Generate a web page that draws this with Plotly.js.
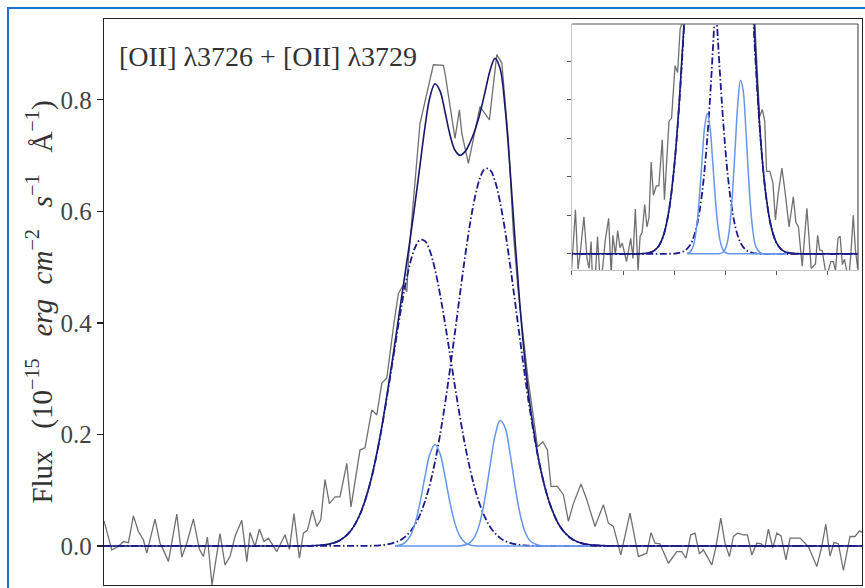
<!DOCTYPE html>
<html>
<head>
<meta charset="utf-8">
<script src="https://cdn.plot.ly/plotly-3.0.1.min.js"></script>
<style>
  html, body { margin: 0; padding: 0; background: #ffffff; overflow: hidden; }
  #wrap { position: relative; width: 865px; height: 588px; overflow: hidden; }
  #chart { position: absolute; left: 0; top: 0; width: 865px; height: 588px; }
  #frame { position: absolute; left: 7px; top: 7px; width: 1000px; height: 1000px;
           border-left: 2px solid #1f72d4; border-top: 2px solid #1f72d4; pointer-events: none; z-index: 5; }
</style>
</head>
<body>
<div id="wrap"><div id="chart"></div><div id="frame"></div></div>
<script>
// Observed spectrum (wavelength in Angstrom, flux in 1e-15 erg/cm2/s/A)
const specX = [4311.70, 4312.09, 4312.42, 4312.67, 4312.92, 4313.17, 4313.42, 4313.67, 4313.84, 4314.25,
  4314.50, 4314.67, 4314.92, 4315.34, 4315.59, 4315.84, 4316.17, 4316.47, 4316.67, 4316.87,
  4317.10, 4317.50, 4317.75, 4318.00, 4318.25, 4318.59, 4318.84, 4319.00, 4319.25, 4319.47,
  4319.70, 4319.92, 4320.34, 4320.75, 4320.97, 4321.20, 4321.47, 4321.67, 4321.87, 4322.12,
  4322.34, 4322.54, 4322.75, 4322.97, 4323.25, 4323.50, 4323.84, 4324.05, 4324.25, 4324.50,
  4324.75, 4325.09, 4325.34, 4325.59, 4325.84, 4326.00, 4326.20, 4326.42, 4326.67, 4326.84,
  4326.92, 4327.09, 4327.30, 4327.50, 4327.75, 4328.17, 4328.67, 4328.75, 4329.25, 4329.47,
  4329.59, 4329.92, 4330.50, 4330.97, 4331.34, 4331.59, 4331.92, 4332.17, 4332.40, 4332.67,
  4332.90, 4333.17, 4333.37, 4333.64, 4333.87, 4334.05, 4334.37, 4334.67, 4334.92, 4335.17,
  4335.55, 4335.84, 4336.25, 4336.67, 4336.92, 4337.17, 4337.54, 4338.00, 4338.25, 4338.42,
  4338.84, 4339.05, 4339.25, 4339.50, 4339.92, 4340.34, 4340.59, 4340.80, 4341.04, 4341.25,
  4341.47, 4341.67, 4342.09, 4342.30, 4342.54, 4342.75, 4342.97, 4343.17, 4343.37, 4343.67,
  4343.87, 4344.09, 4344.34, 4344.54, 4344.75, 4344.92, 4345.14, 4345.34, 4345.55, 4345.80,
  4346.00, 4346.50, 4346.92, 4347.34, 4347.59, 4347.79, 4348.00, 4348.20, 4348.42, 4348.67,
  4349.00, 4349.25, 4349.47, 4349.67];
const specFlux = [0.045, -0.007, -0.001, 0.008, 0.006, 0.054, 0.026, 0.011, -0.013, 0.048,
  0.005, -0.007, -0.028, 0.057, -0.020, 0.005, 0.048, -0.006, -0.019, 0.016,
  -0.070, 0.022, -0.034, -0.019, 0.017, 0.046, -0.028, 0.024, -0.001, 0.030,
  0.008, 0.014, -0.010, 0.020, -0.006, 0.058, -0.022, 0.023, 0.028, 0.064,
  0.035, 0.047, 0.119, 0.076, 0.088, 0.088, 0.148, 0.070, 0.115, 0.172,
  0.176, 0.244, 0.235, 0.292, 0.301, 0.346, 0.400, 0.453, 0.468, 0.456,
  0.513, 0.585, 0.680, 0.758, 0.797, 0.863, 0.862, 0.848, 0.731, 0.782,
  0.740, 0.686, 0.788, 0.764, 0.881, 0.866, 0.728, 0.560, 0.460, 0.375,
  0.300, 0.232, 0.178, 0.187, 0.172, 0.107, 0.107, 0.092, 0.044, 0.076,
  0.111, 0.083, 0.035, 0.074, 0.041, 0.035, -0.016, 0.059, 0.008, -0.019,
  -0.013, 0.024, 0.005, 0.004, -0.031, -0.010, -0.010, -0.022, 0.020, 0.023,
  -0.014, -0.007, -0.034, -0.001, 0.050, 0.005, -0.019, 0.017, 0.023, 0.020,
  0.020, -0.016, 0.005, 0.004, -0.002, 0.030, -0.004, 0.023, 0.018, -0.025,
  0.014, 0.014, -0.001, -0.037, -0.001, 0.039, -0.018, 0.006, 0.004, -0.044,
  0.017, 0.017, 0.027, 0.023];

// Fit curves
const modelX = [4311.7, 4318, 4320, 4321, 4322, 4322.5, 4323, 4323.5, 4324, 4324.5,
  4325, 4325.5, 4326, 4326.5, 4326.75, 4327, 4327.25, 4327.5, 4327.75, 4328,
  4328.25, 4328.5, 4328.75, 4329, 4329.25, 4329.5, 4329.75, 4330, 4330.25, 4330.5,
  4330.75, 4331, 4331.25, 4331.5, 4331.75, 4332, 4332.25, 4332.5, 4332.75, 4333,
  4333.5, 4334, 4334.5, 4335, 4335.5, 4336, 4337, 4338, 4340, 4349.6];
const totalFit = [0, 0, 0, 0, 0.0003, 0.0012, 0.0037, 0.0103, 0.0256, 0.0569,
  0.1119, 0.1958, 0.3052, 0.4265, 0.4873, 0.5486, 0.6133, 0.6826, 0.7515, 0.8055,
  0.8288, 0.8160, 0.7786, 0.7374, 0.7096, 0.7007, 0.7072, 0.7235, 0.7460, 0.7760,
  0.8136, 0.8522, 0.8743, 0.8569, 0.7880, 0.6772, 0.5494, 0.4298, 0.3306, 0.2526,
  0.1432, 0.0749, 0.0351, 0.0148, 0.0056, 0.0019, 0.0002, 0, 0, 0];
const broad3726 = [0, 0, 0, 0, 0.0003, 0.0012, 0.0037, 0.0103, 0.0256, 0.0568,
  0.1116, 0.1946, 0.3015, 0.4146, 0.4650, 0.5063, 0.5351, 0.5489, 0.5467, 0.5284,
  0.4959, 0.4517, 0.3994, 0.3428, 0.2856, 0.2310, 0.1813, 0.1382, 0.1022, 0.0734,
  0.0512, 0.0346, 0.0227, 0.0145, 0.0090, 0.0054, 0.0031, 0.0018, 0.0010, 0.0005,
  0.0001, 0, 0, 0, 0, 0, 0, 0, 0, 0];
const broad3729 = [0, 0, 0, 0, 0, 0, 0, 0, 0, 0.0001,
  0.0003, 0.0012, 0.0036, 0.0101, 0.0162, 0.0252, 0.0381, 0.0560, 0.0801, 0.1115,
  0.1509, 0.1987, 0.2545, 0.3169, 0.3838, 0.4522, 0.5181, 0.5775, 0.6259, 0.6598,
  0.6765, 0.6746, 0.6543, 0.6173, 0.5663, 0.5054, 0.4386, 0.3703, 0.3040, 0.2427,
  0.1424, 0.0748, 0.0351, 0.0148, 0.0056, 0.0019, 0.0002, 0, 0, 0];

const narrowX = [4326.25, 4326.5, 4326.75, 4327, 4327.25, 4327.5, 4327.75, 4328, 4328.25, 4328.5,
  4328.75, 4329, 4329.25, 4329.5, 4329.75, 4330, 4330.25, 4330.5, 4330.75, 4331,
  4331.25, 4331.5, 4331.75, 4332, 4332.25, 4332.5, 4332.75, 4333, 4333.5, 4334,
  4335, 4336];
const narrow3726 = [0.0004, 0.0018, 0.0061, 0.0171, 0.0401, 0.0777, 0.1247, 0.1656, 0.1820, 0.1656,
  0.1247, 0.0777, 0.0401, 0.0171, 0.0061, 0.0018, 0.0004, 0.0001, 0, 0,
  0, 0, 0, 0, 0, 0, 0, 0, 0, 0,
  0, 0];
const narrow3729 = [0, 0, 0, 0, 0, 0, 0, 0, 0, 0,
  0, 0, 0.0001, 0.0004, 0.0017, 0.0060, 0.0175, 0.0427, 0.0859, 0.1430,
  0.1973, 0.2251, 0.2127, 0.1664, 0.1077, 0.0577, 0.0256, 0.0094, 0.0007, 0.0001,
  0, 0];

const yTicks = [0, 0.2, 0.4, 0.6, 0.8];
const yTickText = ['0.0', '0.2', '0.4', '0.6', '0.8'];

const cData = '#707070', cTotal = '#17176c', cBroad = '#1b1b8a', cNarrow = '#6497ea';
const dashDot = '7px,2.5px,1.5px,2.5px';

function traces(xa, ya) {
  return [
    {x: specX, y: specFlux, xaxis: xa, yaxis: ya, type: 'scatter', mode: 'lines',
     line: {color: cData, width: 1.3}, hoverinfo: 'skip'},
    {x: modelX, y: totalFit, xaxis: xa, yaxis: ya, type: 'scatter', mode: 'lines',
     line: {color: cTotal, width: 1.6, shape: 'spline'}, hoverinfo: 'skip'},
    {x: modelX, y: broad3726, xaxis: xa, yaxis: ya, type: 'scatter', mode: 'lines',
     line: {color: cBroad, width: 1.8, dash: dashDot, shape: 'spline'}, hoverinfo: 'skip'},
    {x: modelX, y: broad3729, xaxis: xa, yaxis: ya, type: 'scatter', mode: 'lines',
     line: {color: cBroad, width: 1.8, dash: dashDot, shape: 'spline'}, hoverinfo: 'skip'},
    {x: narrowX, y: narrow3726, xaxis: xa, yaxis: ya, type: 'scatter', mode: 'lines',
     line: {color: cNarrow, width: 1.5, shape: 'spline'}, hoverinfo: 'skip'},
    {x: narrowX, y: narrow3729, xaxis: xa, yaxis: ya, type: 'scatter', mode: 'lines',
     line: {color: cNarrow, width: 1.5, shape: 'spline'}, hoverinfo: 'skip'}
  ];
}

const data = traces('x', 'y').concat(traces('x2', 'y2'));

const serif = 'Liberation Serif, Times New Roman, serif';
const nb = '\u00A0';

const layout = {
  width: 865, height: 588,
  margin: {l: 104, r: 3, t: 19, b: 3, pad: 0},
  paper_bgcolor: 'rgba(0,0,0,0)', plot_bgcolor: '#ffffff',
  showlegend: false,
  font: {family: serif, color: '#333333'},
  xaxis: {domain: [0, 1], range: [4311.7, 4349.6], showline: true, mirror: true,
          linecolor: '#222222', linewidth: 1.3, ticks: '', showticklabels: false,
          showgrid: false, zeroline: false},
  yaxis: {domain: [0, 1], range: [-0.07, 0.945], tickmode: 'array', tickvals: yTicks, ticktext: yTickText,
          ticks: 'outside', ticklen: 6, tickwidth: 1.2, tickcolor: '#222222',
          showline: true, mirror: true, linecolor: '#222222', linewidth: 1.3,
          showgrid: false, zeroline: false, ticklabelstandoff: 0,
          tickfont: {family: serif, size: 25, color: '#444444'}},
  xaxis2: {domain: [0.6174, 0.9947], anchor: 'y2', range: [4315.0, 4343.0],
           tick0: 4320, dtick: 5, ticks: 'outside', ticklen: 4, tickwidth: 1, tickcolor: '#555555',
           showticklabels: false, showline: true, linecolor: '#c4c4c4', linewidth: 1.2,
           showgrid: false, zeroline: false},
  yaxis2: {domain: [0.5565, 0.9912], anchor: 'x2', range: [-0.021, 0.298],
           tick0: 0, dtick: 0.05, ticks: 'outside', ticklen: 4, tickwidth: 1, tickcolor: '#555555',
           showticklabels: false, showline: true, linecolor: '#c4c4c4', linewidth: 1.2,
           showgrid: false, zeroline: false},
  shapes: [
    {type: 'line', xref: 'x2 domain', yref: 'y2 domain', x0: 0, x1: 1, y0: 1, y1: 1,
     line: {color: '#555555', width: 1.2}},
    {type: 'line', xref: 'x2 domain', yref: 'y2 domain', x0: 1, x1: 1, y0: 0, y1: 1,
     line: {color: '#555555', width: 1.2}}
  ],
  annotations: [
    {text: '[OII]' + nb + 'λ3726' + nb + '+' + nb + '[OII]' + nb + 'λ3729',
     xref: 'paper', yref: 'paper', x: 0.0165, y: 0.933, xanchor: 'left', yanchor: 'middle',
     showarrow: false, font: {family: serif, size: 28, color: '#333333'}},
    {text: 'Flux' + nb + nb + nb + '(10<sup>−15</sup>' + nb + nb + nb + '<i>erg</i>' + nb + nb + '<i>cm</i><sup>−2</sup>' + nb + nb + nb +
           '<i>s</i><sup>−1</sup>' + nb + nb + nb + 'Å<sup>−1</sup>)',
     xref: 'paper', yref: 'paper', x: -0.0844, y: 0.499, xanchor: 'center', yanchor: 'middle',
     textangle: -90, showarrow: false, font: {family: serif, size: 29, color: '#333333'}}
  ]
};

Plotly.newPlot('chart', data, layout, {staticPlot: true, displayModeBar: false});
</script>
</body>
</html>
